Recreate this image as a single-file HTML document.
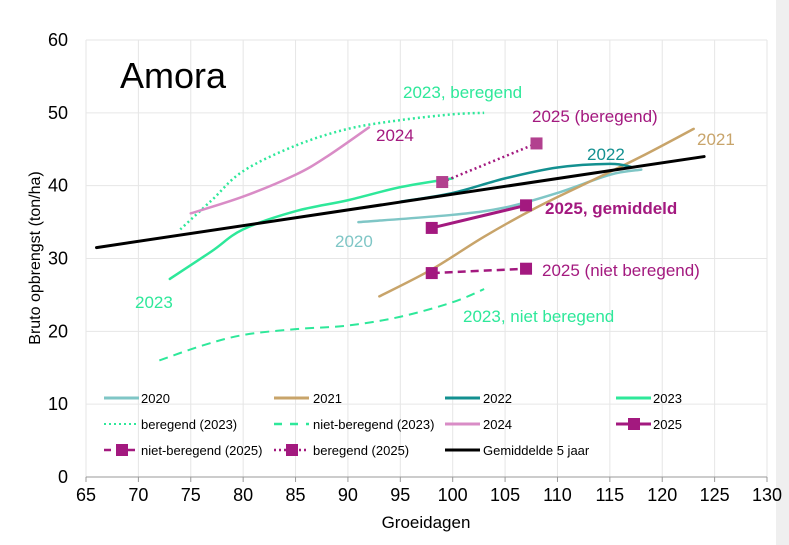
<!DOCTYPE html>
<html><head><meta charset="utf-8"><style>
html,body{margin:0;padding:0;background:#fff}
svg{display:block;font-family:"Liberation Sans",sans-serif}
</style></head><body>
<svg id="s" width="789" height="545" viewBox="0 0 789 545" xmlns="http://www.w3.org/2000/svg">
<rect width="789" height="545" fill="#fff"/>
<rect x="776" y="0" width="13" height="545" fill="#efefef"/>
<g id="grid" stroke="#e6e6e6" stroke-width="1"></g>
<g id="series"></g>
<g font-size="18" fill="#000" text-anchor="end" id="ylab"></g>
<g font-size="18" fill="#000" text-anchor="middle" id="xlab"></g>
<text x="426" y="528" font-size="17" text-anchor="middle">Groeidagen</text>
<text transform="translate(40,258) rotate(-90)" font-size="16" text-anchor="middle">Bruto opbrengst (ton/ha)</text>
<text x="120" y="88" font-size="36">Amora</text>
<g font-size="17">
<text x="403" y="98" fill="#2ee89a">2023, beregend</text>
<text x="532" y="122" fill="#a3197f">2025 (beregend)</text>
<text x="376" y="141" fill="#a3197f">2024</text>
<text x="587" y="160" fill="#139090">2022</text>
<text x="697" y="145" fill="#c8a46a">2021</text>
<text x="545" y="214" fill="#a3197f" font-weight="bold">2025, gemiddeld</text>
<text x="335" y="247" fill="#7fc6c6">2020</text>
<text x="135" y="308" fill="#2ee89a">2023</text>
<text x="542" y="276" fill="#a3197f">2025 (niet beregend)</text>
<text x="463" y="322" fill="#2ee89a">2023, niet beregend</text>
</g>
<g font-size="13" font-family="Liberation Sans Narrow, Liberation Sans, sans-serif">
<text x="141" y="403">2020</text>
<text x="313" y="403">2021</text>
<text x="483" y="403">2022</text>
<text x="653" y="403">2023</text>
<text x="141" y="429">beregend (2023)</text>
<text x="313" y="429">niet-beregend (2023)</text>
<text x="483" y="429">2024</text>
<text x="653" y="429">2025</text>
<text x="141" y="455">niet-beregend (2025)</text>
<text x="313" y="455">beregend (2025)</text>
<text x="483" y="455">Gemiddelde 5 jaar</text>
</g>
<g id="leg"></g>
</svg>
<script>
const NS="http://www.w3.org/2000/svg";
const X=v=>86+(v-65)*10.477, Y=v=>477-v*7.283;
function el(p,t,a){const e=document.createElementNS(NS,t);for(const k in a)e.setAttribute(k,a[k]);p.appendChild(e);return e;}
const g=document.getElementById('grid');
for(let v=65;v<=130;v+=5)el(g,'line',{x1:X(v),x2:X(v),y1:Y(60),y2:Y(0)});
for(let v=10;v<=60;v+=10)el(g,'line',{x1:X(65),x2:X(130),y1:Y(v),y2:Y(v)});
el(g,'line',{x1:X(65),x2:X(130),y1:Y(0),y2:Y(0),stroke:'#999'});
for(let v=65;v<=130;v+=5)el(g,'line',{x1:X(v),x2:X(v),y1:Y(0),y2:Y(0)+5,stroke:'#999'});
const yl=document.getElementById('ylab');for(let v=0;v<=60;v+=10){el(yl,'text',{x:68,y:Y(v)+6}).textContent=v;}
const xl=document.getElementById('xlab');for(let v=65;v<=130;v+=5){el(xl,'text',{x:X(v),y:501}).textContent=v;}
const S=document.getElementById('series');
function smooth(pts){const P=pts.map(p=>[X(p[0]),Y(p[1])]);let d=`M${P[0][0]},${P[0][1]}`;
for(let i=0;i<P.length-1;i++){const p0=P[i-1]||P[i],p1=P[i],p2=P[i+1],p3=P[i+2]||p2;
d+=` C${p1[0]+(p2[0]-p0[0])/6},${p1[1]+(p2[1]-p0[1])/6} ${p2[0]-(p3[0]-p1[0])/6},${p2[1]-(p3[1]-p1[1])/6} ${p2[0]},${p2[1]}`;}return d;}
function line(pts,c,w,dash){el(S,'path',{d:smooth(pts),fill:'none',stroke:c,'stroke-width':w,'stroke-dasharray':dash||'none','stroke-linecap':dash?'butt':'round'});}
line([[91,35],[100,36],[105,37],[110,39],[115,41.5],[118,42.2]],'#7fc6c6',2.5);
line([[93,24.8],[98,28.5],[103,33],[108,37],[113,40.5],[118,44],[123,47.8]],'#c8a46a',2.5);
line([[95,37.8],[100,39],[105,41],[110,42.5],[115,43],[117,42.6]],'#139090',2.5);
line([[73,27.2],[77,31],[80,34],[85,36.5],[90,38],[95,39.8],[100,41]],'#2ee89a',2.5);
line([[74,34],[77,38],[80,42],[85,45.5],[90,47.8],[95,49],[100,49.8],[103,50]],'#2ee89a',2.5,'2 3');
line([[72,16],[76,18],[80,19.5],[85,20.3],[90,20.8],[95,22],[100,24],[103,25.8]],'#2ee89a',2,'9 6');
line([[75,36.2],[80,38.5],[85,41.5],[88,44],[92,48]],'#d98cc6',2.5);
line([[66,31.5],[124,44]],'#000',3);
const M='#a3197f';
function mk(x,y,c){el(S,'rect',{x:x-6,y:y-6,width:12,height:12,fill:c||M});}
line([[98,34.2],[107,37.3]],M,3);mk(X(98),Y(34.2));mk(X(107),Y(37.3));
line([[98,28],[107,28.6]],M,2.5,'8 5');mk(X(98),Y(28));mk(X(107),Y(28.6));
line([[99,40.5],[108,45.8]],M,2.5,'2 3');mk(X(99),Y(40.5),'#b2418f');mk(X(108),Y(45.8),'#b2418f');
const L=document.getElementById('leg');
function lg(x,y,c,w,dash,m){el(L,'line',{x1:x,x2:x+35,y1:y,y2:y,stroke:c,'stroke-width':w,'stroke-dasharray':dash||'none'});if(m)el(L,'rect',{x:x+12,y:y-6,width:12,height:12,fill:c});}
lg(104,398,'#7fc6c6',3);lg(274,398,'#c8a46a',3);lg(445,398,'#139090',3);lg(616,398,'#2ee89a',3);
lg(104,424,'#2ee89a',2,'2 3');lg(274,424,'#2ee89a',2.5,'8 8');lg(445,424,'#d98cc6',3);lg(616,424,M,3,null,1);
lg(104,450,M,2.5,'7 5',1);lg(274,450,M,2.5,'2 3',1);lg(445,450,'#000',3);
</script>
</body></html>
